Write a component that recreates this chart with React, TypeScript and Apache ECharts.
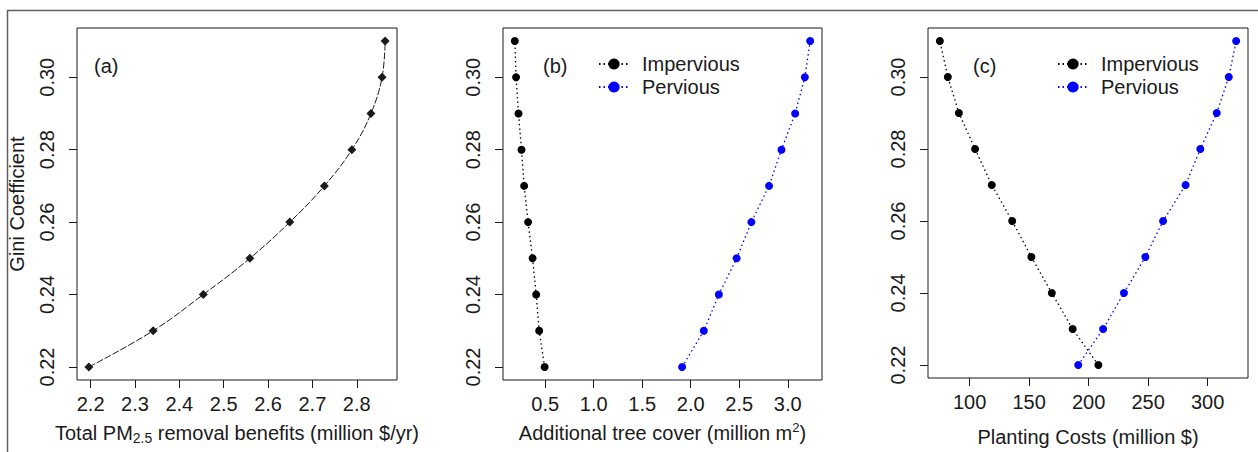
import React, { useEffect, useRef } from "react";
import * as echarts from "echarts";

// Gini coefficient levels (y values, shared by all panels)
const gini = [0.22, 0.23, 0.24, 0.25, 0.26, 0.27, 0.28, 0.29, 0.3, 0.31];
// (a) Total PM2.5 removal benefits (million $/yr)
const benefits = [2.196, 2.341, 2.454, 2.559, 2.649, 2.727, 2.789, 2.832, 2.857, 2.864];
// (b) Additional tree cover (million m2)
const coverImpervious = [0.494, 0.438, 0.407, 0.37, 0.324, 0.283, 0.256, 0.225, 0.2, 0.187];
const coverPervious = [1.911, 2.135, 2.29, 2.473, 2.625, 2.807, 2.935, 3.076, 3.176, 3.231];
// (c) Planting costs (million $)
const costImpervious = [208.2, 186.6, 169.1, 151.9, 135.8, 118.6, 104.6, 91.0, 81.7, 75.0];
const costPervious = [191.3, 212.2, 229.7, 247.7, 262.6, 281.5, 293.9, 307.7, 317.8, 324.0];

// Tick labels
const yTicks = [0.22, 0.24, 0.26, 0.28, 0.3];
const xTicksA = [2.2, 2.3, 2.4, 2.5, 2.6, 2.7, 2.8];
const xTicksB = [0.5, 1.0, 1.5, 2.0, 2.5, 3.0];
const xTicksC = [100, 150, 200, 250, 300];

const seriesNames = ["Impervious", "Pervious"];
const panelLabels = ["(a)", "(b)", "(c)"];

const FONT = "'Liberation Sans', Arial, Helvetica, sans-serif";
const INK = "#1a1a1a";
const BLUE = "#0000ff";
const FS = 20;

function padRange(vals: number[]): [number, number] {
  const lo = Math.min(...vals);
  const hi = Math.max(...vals);
  const p = (hi - lo) * 0.04;
  return [lo - p, hi + p];
}

function pairs(xs: number[], ys: number[]) {
  return xs.map((x, i) => [x, ys[i]]);
}

export default function App() {
  const ref = useRef<HTMLDivElement>(null);

  useEffect(() => {
    if (!ref.current) return;
    const chart = echarts.init(ref.current, null, { renderer: "svg" });

    const yRange = padRange(gini);
    const xRangeA = padRange(benefits);
    const xRangeB = padRange([...coverImpervious, ...coverPervious]);
    const xRangeC = padRange([...costImpervious, ...costPervious]);

    const textBase = { fontFamily: FONT, color: INK, fontSize: FS };
    const rich = {
      t: { ...textBase, lineHeight: 24 },
      sub: { fontFamily: FONT, color: INK, fontSize: 14, lineHeight: 10, verticalAlign: "bottom" },
      sup: { fontFamily: FONT, color: INK, fontSize: 13, lineHeight: 10, verticalAlign: "top" },
    };

    const gridLayout = [
      { left: 77, width: 320 },
      { left: 503, width: 319 },
      { left: 928, width: 320 },
    ];
    const grids = gridLayout.map((g) => ({
      ...g,
      top: 28,
      height: 352,
      show: true,
      borderColor: INK,
      borderWidth: 1,
      backgroundColor: "transparent",
      containLabel: false,
    }));

    const makeX = (
      gridIndex: number,
      range: [number, number],
      ticks: number[],
      fmt: (v: number) => string,
      name: string,
      nameGap: number
    ) => ({
      type: "value",
      gridIndex,
      min: range[0],
      max: range[1],
      axisLine: { show: false },
      splitLine: { show: false },
      axisTick: { show: true, inside: false, length: 8, customValues: ticks, lineStyle: { color: INK } },
      axisLabel: { customValues: ticks, formatter: fmt, margin: 14, ...textBase },
      name,
      nameLocation: "middle",
      nameGap,
      nameTextStyle: { ...textBase, rich },
    });

    const makeY = (gridIndex: number, withName: boolean) => ({
      type: "value",
      gridIndex,
      min: yRange[0],
      max: yRange[1],
      axisLine: { show: false },
      splitLine: { show: false },
      axisTick: { show: true, inside: false, length: 8, customValues: yTicks, lineStyle: { color: INK } },
      axisLabel: {
        customValues: yTicks,
        formatter: (v: number) => v.toFixed(2),
        rotate: 90,
        margin: 20,
        ...textBase,
      },
      name: withName ? "Gini Coefficient" : "",
      nameLocation: "middle",
      nameGap: 50,
      nameTextStyle: { ...textBase },
    });

    const legendFor = (left: number) => ({
      orient: "vertical",
      left,
      top: 49,
      itemWidth: 30,
      itemHeight: 14,
      itemGap: 3,
      data: seriesNames,
      selectedMode: false,
      textStyle: { ...textBase, lineHeight: 20, padding: [0, 0, 0, 8] },
    });

    const dotted = (color: string) => ({ color, width: 1.3, type: [1.5, 3] });

    const option = {
      animation: false,
      backgroundColor: "#ffffff",
      grid: grids,
      xAxis: [
        makeX(0, xRangeA, xTicksA, (v) => v.toFixed(1), "{t|Total PM}{sub|2.5}{t| removal benefits (million $/yr)}", 41),
        makeX(1, xRangeB, xTicksB, (v) => v.toFixed(1), "{t|Additional tree cover (million m}{sup|2}{t|)}", 41),
        makeX(2, xRangeC, xTicksC, (v) => String(Math.round(v)), "{t|Planting Costs (million $)}", 47),
      ],
      yAxis: [makeY(0, true), makeY(1, false), makeY(2, false)],
      legend: [legendFor(593), legendFor(1052)],
      series: [
        {
          type: "line",
          name: "Benefits",
          xAxisIndex: 0,
          yAxisIndex: 0,
          data: pairs(benefits, gini),
          smooth: 0.4,
          symbol: "diamond",
          symbolSize: 9,
          itemStyle: { color: INK },
          lineStyle: { color: INK, width: 1, type: [7, 2] },
        },
        {
          type: "line",
          name: seriesNames[0],
          xAxisIndex: 1,
          yAxisIndex: 1,
          data: pairs(coverImpervious, gini),
          symbol: "circle",
          symbolSize: 8,
          itemStyle: { color: "#000000" },
          lineStyle: dotted("#000000"),
        },
        {
          type: "line",
          name: seriesNames[1],
          xAxisIndex: 1,
          yAxisIndex: 1,
          data: pairs(coverPervious, gini),
          symbol: "circle",
          symbolSize: 8,
          itemStyle: { color: BLUE },
          lineStyle: dotted(BLUE),
        },
        {
          type: "line",
          name: seriesNames[0],
          xAxisIndex: 2,
          yAxisIndex: 2,
          data: pairs(costImpervious, gini),
          symbol: "circle",
          symbolSize: 8,
          itemStyle: { color: "#000000" },
          lineStyle: dotted("#000000"),
        },
        {
          type: "line",
          name: seriesNames[1],
          xAxisIndex: 2,
          yAxisIndex: 2,
          data: pairs(costPervious, gini),
          symbol: "circle",
          symbolSize: 8,
          itemStyle: { color: BLUE },
          lineStyle: dotted(BLUE),
        },
      ],
      graphic: [
        { type: "line", shape: { x1: 7, y1: 10.5, x2: 1258, y2: 10.5 }, style: { stroke: "#5f5f5f", lineWidth: 1.5 } },
        { type: "line", shape: { x1: 7.5, y1: 10, x2: 7.5, y2: 452 }, style: { stroke: "#5f5f5f", lineWidth: 1.5 } },
        { type: "text", x: 94, y: 66, style: { text: panelLabels[0], ...textBase, fill: INK, verticalAlign: "middle" } },
        { type: "text", x: 543, y: 66, style: { text: panelLabels[1], ...textBase, fill: INK, verticalAlign: "middle" } },
        { type: "text", x: 973, y: 66, style: { text: panelLabels[2], ...textBase, fill: INK, verticalAlign: "middle" } },
      ],
    };

    chart.setOption(option as any);
    return () => chart.dispose();
  }, []);

  return (
    <div
      ref={ref}
      style={{ position: "absolute", left: 0, top: 0, width: 1258, height: 452, background: "#fff" }}
    />
  );
}
